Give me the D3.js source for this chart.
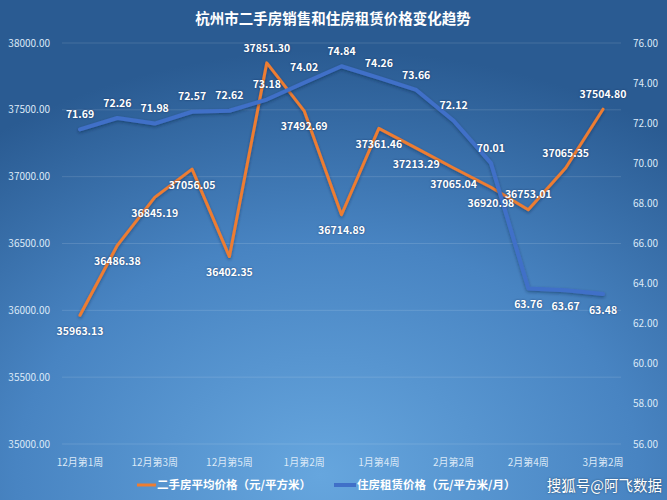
<!DOCTYPE html>
<html><head><meta charset="utf-8">
<script src="https://cdn.jsdelivr.net/npm/d3@7"></script>
<style>
html,body{margin:0;padding:0;background:#2d6099;}
svg{display:block;font-family:"Noto Sans CJK SC","Noto Sans",sans-serif;}
.lbl{font-weight:bold;font-size:10.5px;fill:#fff;text-shadow:0 0 2px rgba(0,20,60,0.6);}
.tick{font-size:10px;fill:#dce9f7;}
</style></head><body>
<svg id="c" width="667" height="500"></svg>
<script>
const categories = ["12月第1周","12月第2周","12月第3周","12月第4周","12月第5周","1月第1周","1月第2周","1月第3周","1月第4周","2月第1周","2月第2周","2月第3周","2月第4周","3月第1周","3月第2周"];
const salePrice = [35963.13,36486.38,36845.19,37056.05,36402.35,37851.30,37492.69,36714.89,37361.46,37213.29,37065.04,36920.98,36753.01,37065.35,37504.80];
const rentPrice = [71.69,72.26,71.98,72.57,72.62,73.18,74.02,74.84,74.26,73.66,72.12,70.01,63.76,63.67,63.48];
const leftTicks = [35000,35500,36000,36500,37000,37500,38000];
const rightTicks = [56,58,60,62,64,66,68,70,72,74,76];
const title = "杭州市二手房销售和住房租赁价格变化趋势";
const seriesNames = ["二手房平均价格（元/平方米）","住房租赁价格（元/平方米/月）"];
const watermark = "搜狐号@阿飞数据";

const W=667,H=500;
const svg=d3.select("#c");
const defs=svg.append("defs");
const rg=defs.append("radialGradient").attr("id","bg").attr("cx","50%").attr("cy","95%").attr("r","85%").attr("fx","48%").attr("fy","95%");
rg.append("stop").attr("offset","0%").attr("stop-color","#66a6de");
rg.append("stop").attr("offset","55%").attr("stop-color","#4884c2");
rg.append("stop").attr("offset","100%").attr("stop-color","#2a5b92");
svg.append("rect").attr("width",W).attr("height",H).attr("fill","url(#bg)");
const sh=defs.append("filter").attr("id","sh").attr("x","-10%").attr("y","-10%").attr("width","120%").attr("height","120%");
sh.append("feDropShadow").attr("dx",0).attr("dy",1.5).attr("stdDeviation",1.5).attr("flood-color","#0a2040").attr("flood-opacity",0.45);

const x=d3.scalePoint().domain(categories).range([80,603]);
const yL=d3.scaleLinear().domain([35000,38000]).range([444,43]);
const yR=d3.scaleLinear().domain([56,76]).range([444,43]);

// grid
svg.append("g").selectAll("line").data(leftTicks).join("line")
 .attr("x1",62).attr("x2",621).attr("y1",d=>yL(d)).attr("y2",d=>yL(d))
 .attr("stroke","rgba(255,255,255,0.13)").attr("stroke-width",1);

// title
svg.append("text").attr("x",333).attr("y",24).attr("text-anchor","middle")
 .attr("fill","#fff").attr("font-weight","bold").attr("font-size","14.5px").text(title);

// left axis
svg.append("g").selectAll("text").data(leftTicks).join("text").attr("class","tick")
 .attr("x",50).attr("y",d=>yL(d)).attr("dy","0.35em").attr("text-anchor","end").text(d=>d.toFixed(2));
// right axis
svg.append("g").selectAll("text").data(rightTicks).join("text").attr("class","tick")
 .attr("x",633).attr("y",d=>yR(d)).attr("dy","0.35em").attr("text-anchor","start").text(d=>d.toFixed(2));
// x axis labels
svg.append("g").selectAll("text").data(categories.filter((d,i)=>i%2===0)).join("text").attr("class","tick")
 .attr("x",d=>x(d)).attr("y",462).attr("dy","0.35em").attr("text-anchor","middle").text(d=>d);

// lines
const lineL=d3.line().x((d,i)=>x(categories[i])).y(d=>yL(d));
const lineR=d3.line().x((d,i)=>x(categories[i])).y(d=>yR(d));
svg.append("path").attr("d",lineL(salePrice)).attr("fill","none").attr("stroke","#ed7d31")
 .attr("stroke-width",3).attr("stroke-linejoin","round").attr("stroke-linecap","round").attr("filter","url(#sh)");
svg.append("path").attr("d",lineR(rentPrice)).attr("fill","none").attr("stroke","#4070c8")
 .attr("stroke-width",4).attr("stroke-linejoin","round").attr("stroke-linecap","round").attr("filter","url(#sh)");

// labels
const saleAbove=new Set([5,12,13,14]);
const rentBelow=new Set([12,13,14]);
svg.append("g").selectAll("text").data(salePrice).join("text").attr("class","lbl")
 .attr("x",(d,i)=>x(categories[i])).attr("y",(d,i)=>yL(d)+(saleAbove.has(i)?-15:16))
 .attr("dy","0.35em").attr("text-anchor","middle").text(d=>d.toFixed(2));
svg.append("g").selectAll("text").data(rentPrice).join("text").attr("class","lbl")
 .attr("x",(d,i)=>x(categories[i])).attr("y",(d,i)=>yR(d)+(rentBelow.has(i)?16:-15))
 .attr("dy","0.35em").attr("text-anchor","middle").text(d=>d.toFixed(2));

// legend
const lg=svg.append("g").attr("font-size","11.5px").attr("font-weight","bold");
lg.append("line").attr("x1",137).attr("x2",156).attr("y1",485).attr("y2",485).attr("stroke","#ed7d31").attr("stroke-width",3);
lg.append("text").attr("x",157).attr("y",485).attr("dy","0.35em").attr("fill","#fff").text(seriesNames[0]);
lg.append("line").attr("x1",334).attr("x2",356).attr("y1",485).attr("y2",485).attr("stroke","#4070c8").attr("stroke-width",4);
lg.append("text").attr("x",357).attr("y",485).attr("dy","0.35em").attr("fill","#fff").text(seriesNames[1]);

// watermark
svg.append("text").attr("x",662).attr("y",486).attr("dy","0.35em").attr("text-anchor","end")
 .attr("font-size","14.5px").attr("fill","#fff").style("text-shadow","0 0 2px rgba(0,0,0,0.5)").text(watermark);
</script></body></html>
